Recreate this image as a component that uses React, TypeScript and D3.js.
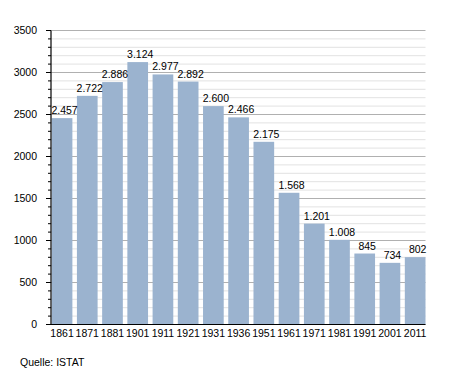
import React from 'react';
import * as d3 from 'd3';

const years = ['1861', '1871', '1881', '1901', '1911', '1921', '1931', '1936', '1951', '1961', '1971', '1981', '1991', '2001', '2011'];
const population = [2457, 2722, 2886, 3124, 2977, 2892, 2600, 2466, 2175, 1568, 1201, 1008, 845, 734, 802];
const yTicks = [0, 500, 1000, 1500, 2000, 2500, 3000, 3500];
const sourceNote = 'Quelle: ISTAT';

const width = 455;
const height = 373;
const left = 51;
const right = 425.5;
const top = 30.5;
const bottom = 324.5;

const font = '"Liberation Sans", Arial, sans-serif';
const barColor = '#9bb3cf';

const fmt = d3.formatLocale({ decimal: ',', thousands: '.', grouping: [3], currency: ['', '€'] }).format(',d');

function App() {
  const x = d3.scaleBand<string>().domain(years).range([left + 0.7, right]).paddingInner(0.18).paddingOuter(0);
  const y = d3.scaleLinear().domain([0, 3500]).range([bottom, top]);
  const minor = d3.range(0, 3501, 100);

  return (
    <svg width={width} height={height} style={{ position: 'absolute', left: 0, top: 0, background: '#fff' }} fontFamily={font}>
      {/* grid */}
      {minor.map(v => (
        <line key={'g' + v} x1={left} x2={right} y1={y(v)} y2={y(v)}
          stroke={v % 500 === 0 ? '#b0b0b0' : '#e2e2e2'} strokeWidth={1} />
      ))}
      {/* bars */}
      {years.map((yr, i) => (
        <rect key={yr} x={x(yr)} width={x.bandwidth()} y={y(population[i])} height={bottom - y(population[i])} fill={barColor} />
      ))}
      {/* value labels */}
      {years.map((yr, i) => (
        <text key={'v' + yr} x={(x(yr) ?? 0) + x.bandwidth() / 2 + 2.5} y={y(population[i]) - 4} textAnchor="middle" fontSize={10.5} fill="#000">
          {fmt(population[i])}
        </text>
      ))}
      {/* y axis */}
      <line x1={left} x2={left} y1={top} y2={bottom} stroke="#000" strokeWidth={1.2} />
      {minor.map(v => (
        <line key={'t' + v} x1={left - (v % 500 === 0 ? 5 : 3)} x2={left} y1={y(v)} y2={y(v)} stroke="#000" strokeWidth={1} />
      ))}
      {yTicks.map(v => (
        <text key={'l' + v} x={37} y={y(v) + 3.5} textAnchor="end" fontSize={10.5} fill="#000">{v}</text>
      ))}
      {/* x axis */}
      <line x1={left} x2={right} y1={bottom} y2={bottom} stroke="#000" strokeWidth={1.2} />
      {years.map(yr => (
        <text key={'x' + yr} x={(x(yr) ?? 0) + x.bandwidth() / 2} y={bottom + 12} textAnchor="middle" fontSize={10.5} fill="#000">{yr}</text>
      ))}
      <text x={20} y={366} fontSize={10.5} fill="#000">{sourceNote}</text>
    </svg>
  );
}

export default App;
